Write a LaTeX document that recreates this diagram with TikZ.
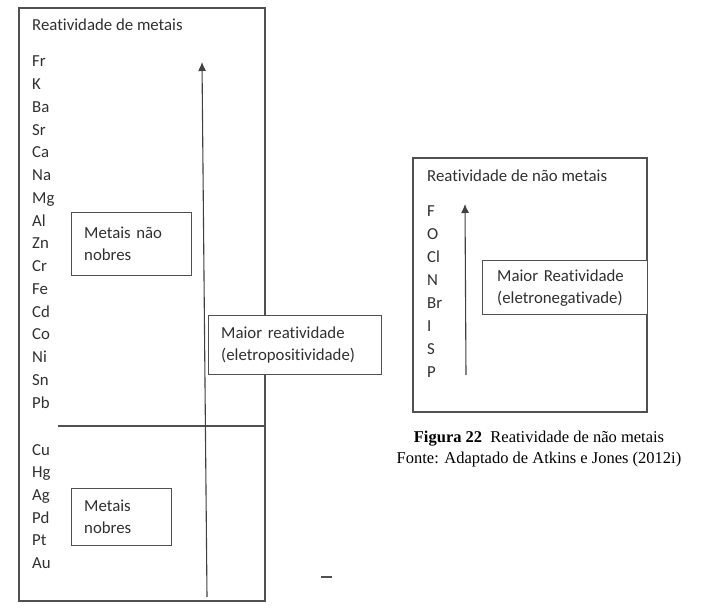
\documentclass[tikz,border=0pt]{standalone}
\usepackage{fontspec}
\setmainfont{Carlito}[Ligatures=NoCommon]
\newfontfamily\capfont{Liberation Serif}
\usetikzlibrary{arrows.meta}
\definecolor{txt}{HTML}{303030}
\definecolor{ln}{HTML}{505050}
\tikzset{
  lbl/.style={anchor=base west, inner sep=0pt, text=txt, font=\fontsize{16.8}{22}\selectfont},
  frame/.style={draw=ln, line width=1.4pt},
  tbox/.style={draw=ln, line width=1.4pt, fill=white, text=txt, align=left, anchor=north west,
    font=\fontsize{16.8}{22}\selectfont, inner ysep=0pt},
  uparrow/.style={draw=ln!80!black, line width=1.1pt, -{Latex[length=9pt,width=8pt]}},
  captext/.style={anchor=base, inner sep=0pt, font=\capfont\fontsize{16.5}{21}\selectfont}
}
\begin{document}
\begin{tikzpicture}[x=1pt,y=-1pt]
\useasboundingbox (0,0) rectangle (717,609);
% left frame
\draw[frame] (19,8) rectangle (265,601);
\node[lbl] (tl) at (32,30.5) {Reatividade de metais};
\foreach \e [count=\i from 0] in {Fr,K,Ba,Sr,Ca,Na,Mg,Al,Zn,Cr,Fe,Cd,Co,Ni,Sn,Pb}
  \node[lbl] (m\i) at (32,{67+22.75*\i}) {\e};
\foreach \e [count=\i from 0] in {Cu,Hg,Ag,Pd,Pt,Au}
  \node[lbl] (n\i) at (32,{455+22.7*\i}) {\e};
\coordinate (hl) at (58,426);
\coordinate (hr) at (265,426);
\draw[frame] (hl) -- (hr);
\coordinate (abot) at (207,597);
\coordinate (atop) at (202,62);
\draw[uparrow] (abot) -- (atop);
\node[tbox, minimum width=120pt, minimum height=63pt, text width=95pt, inner xsep=12pt] (nn) at (71,212) {Metais não\\nobres};
\node[tbox, minimum width=100pt, minimum height=57pt, text width=75pt, inner xsep=12pt] (nb) at (71,488) {Metais\\nobres};
\node[tbox, minimum width=173pt, minimum height=59pt, text width=148pt, inner xsep=12pt] (mr) at (208,315) {Maior reatividade\\(eletropositividade)};
% stray dash
\coordinate (d1) at (321,577);
\coordinate (d2) at (332,577);
\draw[ln, line width=1.3pt] (d1) -- (d2);
% right frame
\draw[frame] (413,158) rectangle (647,412);
\node[lbl] (tr) at (427,181.5) {Reatividade de não metais};
\foreach \e [count=\i from 0] in {F,O,Cl,N,Br,I,S,P}
  \node[lbl] (r\i) at (427,{217+22.9*\i}) {\e};
\coordinate (bbot) at (466,375);
\coordinate (btop) at (465,204);
\draw[uparrow] (bbot) -- (btop);
\node[tbox, minimum width=165pt, minimum height=54pt, text width=136pt, inner xsep=14pt] (mR) at (482,260) {Maior Reatividade\\(eletronegativade)};
% caption
\node[captext] (c1) at (539,442) {\textbf{Figura 22}\enspace Reatividade de não metais};
\node[captext] (c2) at (539,463) {Fonte: Adaptado de Atkins e Jones (2012i)};
\end{tikzpicture}
\end{document}
